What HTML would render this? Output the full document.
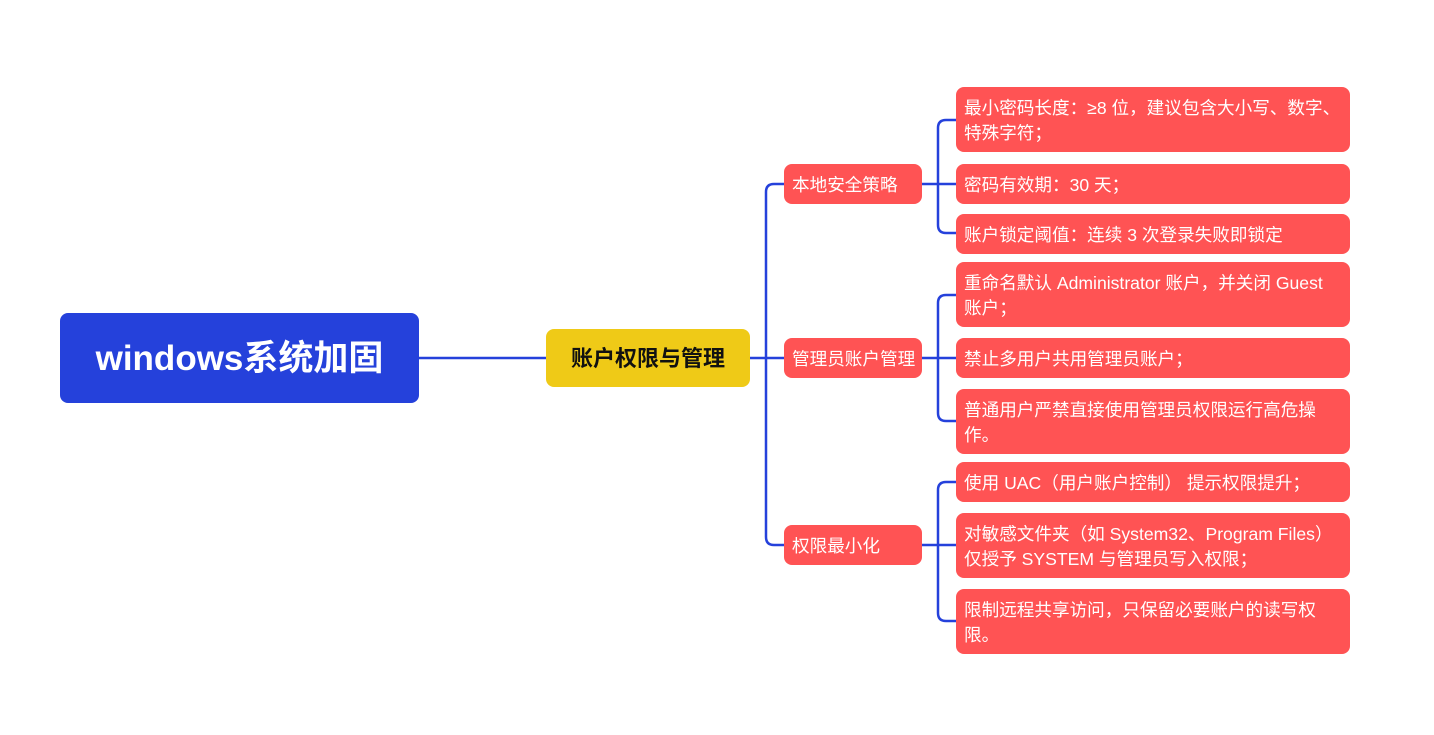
<!DOCTYPE html>
<html><head><meta charset="utf-8">
<style>
html,body{margin:0;padding:0;background:#fff;}
body{width:1434px;height:735px;position:relative;overflow:hidden;font-family:"Liberation Sans","Noto Sans CJK SC",sans-serif;}
.b{position:absolute;box-sizing:border-box;white-space:nowrap;}
.root{left:60px;top:313px;width:359px;height:90px;background:#2541DB;border-radius:8px;color:#fff;font-weight:bold;font-size:35px;line-height:92px;text-align:center;}
.y{left:546px;top:329px;width:204px;height:58px;background:#EFCA17;border-radius:8px;color:#111;font-weight:bold;font-size:22px;line-height:60px;text-align:center;}
.br{left:784px;width:138px;height:40px;background:#FF5354;border-radius:8px;color:#fff;font-size:17.6px;line-height:42px;padding-left:8px;}
.lf{left:956px;width:394px;background:#FF5354;border-radius:8px;color:#fff;font-size:17.6px;padding-left:8px;}
.s{height:40px;line-height:42px;}
.d{height:65px;line-height:25px;padding-top:9px;}
svg{position:absolute;left:0;top:0;}
</style></head><body>
<svg width="1434" height="735" viewBox="0 0 1434 735" fill="none" stroke="#2541DB" stroke-width="2.5">
<path d="M419 358 H546"/>
<path d="M750 358 H784"/>
<path d="M784 184 H774 Q766 184 766 192 V537 Q766 545 774 545 H784"/>
<path d="M922 184 H956"/>
<path d="M956 120 H946 Q938 120 938 128 V225 Q938 233 946 233 H956"/>
<path d="M922 358 H956"/>
<path d="M956 295 H946 Q938 295 938 303 V413 Q938 421 946 421 H956"/>
<path d="M922 545 H956"/>
<path d="M956 482 H946 Q938 482 938 490 V613 Q938 621 946 621 H956"/>
</svg>
<div class="b root">windows系统加固</div>
<div class="b y">账户权限与管理</div>
<div class="b br" style="top:164px">本地安全策略</div>
<div class="b br" style="top:338px">管理员账户管理</div>
<div class="b br" style="top:525px">权限最小化</div>

<div class="b lf d" style="top:87px">最小密码长度：≥8 位，建议包含大小写、数字、<br>特殊字符；</div>
<div class="b lf s" style="top:164px">密码有效期：30 天；</div>
<div class="b lf s" style="top:214px">账户锁定阈值：连续 3 次登录失败即锁定</div>

<div class="b lf d" style="top:262px">重命名默认 Administrator 账户，并关闭 Guest<br>账户；</div>
<div class="b lf s" style="top:338px">禁止多用户共用管理员账户；</div>
<div class="b lf d" style="top:389px">普通用户严禁直接使用管理员权限运行高危操<br>作。</div>

<div class="b lf s" style="top:462px">使用 UAC（用户账户控制） 提示权限提升；</div>
<div class="b lf d" style="top:513px">对敏感文件夹（如 System32、Program Files）<br>仅授予 SYSTEM 与管理员写入权限；</div>
<div class="b lf d" style="top:589px">限制远程共享访问，只保留必要账户的读写权<br>限。</div>
</body></html>
